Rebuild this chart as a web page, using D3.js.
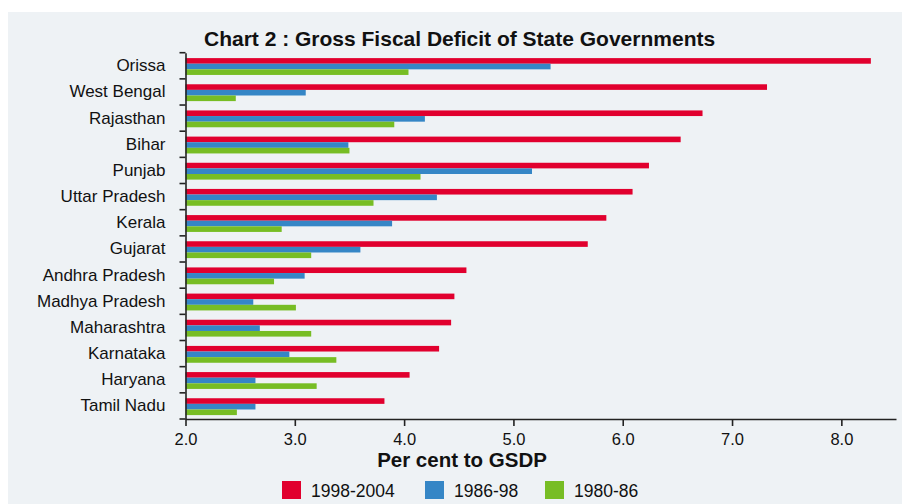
<!DOCTYPE html>
<html>
<head>
<meta charset="utf-8">
<script src="https://cdn.jsdelivr.net/npm/d3@7"></script>
<style>
  html, body { margin: 0; padding: 0; background: #ffffff; }
  svg { display: block; }
  text { font-family: "Liberation Sans", Arial, Helvetica, sans-serif; fill: #111; }
</style>
</head>
<body>
<svg id="chart" width="902" height="504"></svg>
<script>
// States, ordered by deficit in 1998-2004
const states = ["Orissa", "West Bengal", "Rajasthan", "Bihar", "Punjab", "Uttar Pradesh",
  "Kerala", "Gujarat", "Andhra Pradesh", "Madhya Pradesh", "Maharashtra", "Karnataka",
  "Haryana", "Tamil Nadu"];

// Gross fiscal deficit, per cent to GSDP
const deficit1998_2004 = [8.27, 7.32, 6.73, 6.53, 6.24, 6.09, 5.85, 5.68, 4.57, 4.46, 4.43, 4.32, 4.05, 3.82];
const deficit1986_98   = [5.34, 3.10, 4.19, 3.49, 5.17, 4.30, 3.89, 3.60, 3.09, 2.62, 2.68, 2.95, 2.64, 2.64];
const deficit1980_86   = [4.04, 2.46, 3.91, 3.50, 4.15, 3.72, 2.88, 3.15, 2.81, 3.01, 3.15, 3.38, 3.20, 2.47];

const periods = ["1998-2004", "1986-98", "1980-86"];
const periodColors = ["#e1002e", "#3586c6", "#77bd24"];
const xTicks = [2.0, 3.0, 4.0, 5.0, 6.0, 7.0, 8.0];

const title = "Chart 2 : Gross Fiscal Deficit of State Governments";
const xTitle = "Per cent to GSDP";

const seriesValues = [deficit1998_2004, deficit1986_98, deficit1980_86];
const rows = states.map((s, i) => ({
  state: s,
  values: periods.map((p, j) => ({ period: p, value: seriesValues[j][i] }))
}));

const svg = d3.select("#chart");

// Panel background
svg.append("rect")
  .attr("x", 8).attr("y", 12)
  .attr("width", 894).attr("height", 492)
  .attr("fill", "#eef2f5");

const x = d3.scaleLinear().domain([2, 8.5]).range([185.5, 896]);
const y = d3.scaleBand().domain(states).range([52.7, 419]).paddingInner(0).paddingOuter(0);
const ySub = d3.scaleBand().domain(periods).range([0, y.bandwidth()])
  .paddingInner(0).paddingOuter(0.83).align(0.58);
const color = d3.scaleOrdinal().domain(periods).range(periodColors);

// Bars
const groups = svg.append("g").selectAll("g")
  .data(rows).join("g")
  .attr("transform", d => `translate(0,${y(d.state)})`);

groups.selectAll("rect")
  .data(d => d.values).join("rect")
  .attr("x", x(2))
  .attr("y", d => ySub(d.period))
  .attr("width", d => x(d.value) - x(2))
  .attr("height", ySub.bandwidth())
  .attr("fill", d => color(d.period));

// X axis
const xAxis = svg.append("g")
  .attr("transform", `translate(0,${y.range()[1]})`)
  .call(d3.axisBottom(x).tickValues(xTicks).tickFormat(d3.format(".1f")).tickSize(7).tickPadding(7).tickSizeOuter(0));
xAxis.select(".domain").attr("stroke", "#222").attr("stroke-width", 1.6);
xAxis.selectAll(".tick line").attr("stroke", "#222").attr("stroke-width", 1.6);
xAxis.selectAll(".tick text")
  .style("font-family", "'Liberation Sans', Arial, sans-serif")
  .style("font-size", "16.5px").attr("fill", "#111");

// Y axis: state labels centred on each band, ticks at band boundaries
const yAxis = svg.append("g")
  .attr("transform", `translate(${x(2)},0)`)
  .call(d3.axisLeft(y).tickSize(0).tickPadding(20));
yAxis.select(".domain").attr("stroke", "#222").attr("stroke-width", 1.6);
yAxis.selectAll(".tick text")
  .style("font-family", "'Liberation Sans', Arial, sans-serif")
  .style("font-size", "17px").attr("fill", "#111");

const boundaries = states.map(s => y(s)).concat([y.range()[1]]);
yAxis.append("g").selectAll("line")
  .data(boundaries).join("line")
  .attr("x1", -6).attr("x2", 0)
  .attr("y1", d => d).attr("y2", d => d)
  .attr("stroke", "#222").attr("stroke-width", 1.6);

// Titles
svg.append("text")
  .attr("x", 204).attr("y", 46)
  .style("font-size", "21px").style("font-weight", "bold")
  .text(title);

svg.append("text")
  .attr("x", 462).attr("y", 467)
  .attr("text-anchor", "middle")
  .style("font-size", "20.5px").style("font-weight", "bold")
  .text(xTitle);

// Legend
const legendX = [282, 425, 545];
const legend = svg.append("g").selectAll("g")
  .data(periods).join("g")
  .attr("transform", (d, i) => `translate(${legendX[i]},481)`);
legend.append("rect")
  .attr("width", 19).attr("height", 18)
  .attr("fill", d => color(d));
legend.append("text")
  .attr("x", 29).attr("y", 16)
  .style("font-size", "17.5px")
  .text(d => d);
</script>
</body>
</html>
